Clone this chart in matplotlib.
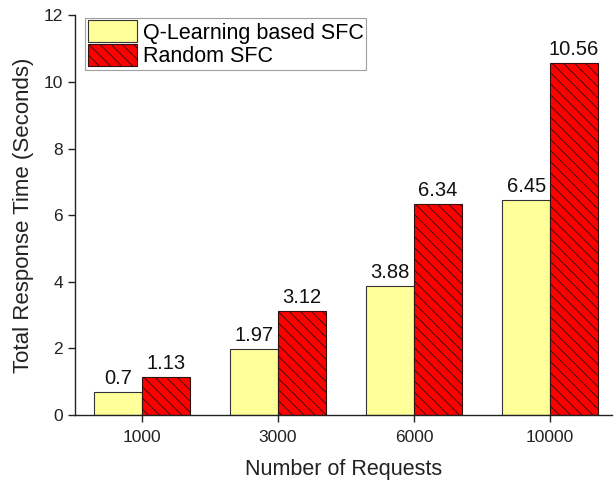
import matplotlib
matplotlib.use("Agg")
import matplotlib.pyplot as plt
import numpy as np

plt.rcParams['font.family'] = ['Liberation Sans', 'DejaVu Sans']
plt.rcParams['hatch.linewidth'] = 0.65

requests = ["1000", "3000", "6000", "10000"]
q_learning = [0.7, 1.97, 3.88, 6.45]
random_sfc = [1.13, 3.12, 6.34, 10.56]
q_labels = ["0.7", "1.97", "3.88", "6.45"]
r_labels = ["1.13", "3.12", "6.34", "10.56"]
series_names = ["Q-Learning based SFC", "Random SFC"]

fig = plt.figure(figsize=(6.15, 4.82), dpi=100)
ax = fig.add_axes([0.122, 0.139, 0.873, 0.829])

x = np.arange(len(requests))
w = 0.35
b1 = ax.bar(x - w / 2, q_learning, w, color="#FFFF99", edgecolor="#333333",
            linewidth=0.8, label=series_names[0])
b2 = ax.bar(x + w / 2, random_sfc, w, color="#FF0000", edgecolor="#331111",
            linewidth=0.8, hatch="\\\\\\", label=series_names[1])

for rect, txt in zip(b1, q_labels):
    ax.annotate(txt, (rect.get_x() + rect.get_width() / 2, rect.get_height()),
                xytext=(0, 3), textcoords="offset points",
                ha="center", va="bottom", fontsize=14.5, color="#111111")
for rect, txt in zip(b2, r_labels):
    ax.annotate(txt, (rect.get_x() + rect.get_width() / 2, rect.get_height()),
                xytext=(0, 3), textcoords="offset points",
                ha="center", va="bottom", fontsize=14.5, color="#111111")

ax.set_xlim(-0.493, 3.456)
ax.set_ylim(0, 12)
ax.set_yticks(np.arange(0, 13, 2))
ax.set_xticks(x)
ax.set_xticklabels(requests)
ax.tick_params(axis="both", direction="out", length=5, width=1, labelsize=12.5,
               colors="#222222")
ax.tick_params(axis="x", pad=6)
ax.spines["top"].set_visible(False)
ax.spines["right"].set_visible(False)
for s in ("left", "bottom"):
    ax.spines[s].set_linewidth(1.0)
    ax.spines[s].set_color("#222222")

ax.set_xlabel("Number of Requests", fontsize=15.5, color="#222222", labelpad=10)
ax.set_ylabel("Total Response Time (Seconds)", fontsize=16, color="#222222",
              labelpad=7)

leg = ax.legend(loc="upper left", bbox_to_anchor=(0.0186, 0.994), fontsize=15.5,
                frameon=True, fancybox=False, borderpad=0.12,
                handlelength=2.28, handleheight=1.2, handletextpad=0.28,
                labelspacing=0.0, borderaxespad=0.0)
leg.get_frame().set_edgecolor("#888888")
leg.get_frame().set_linewidth(0.8)

fig.savefig("out.png", dpi=100)
